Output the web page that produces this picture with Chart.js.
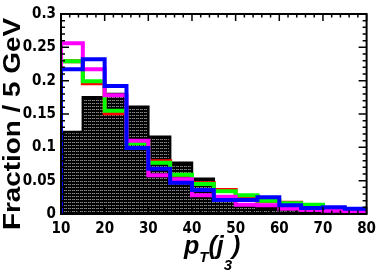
<!DOCTYPE html>
<html>
<head>
<meta charset="utf-8">
<script src="https://cdn.jsdelivr.net/npm/chart.js@4"></script>
<style>
html, body { margin: 0; padding: 0; background: #fff; }
</style>
</head>
<body>
<canvas id="c" width="382" height="273"></canvas>
<script>
// bin edges of the histogram (GeV)
const binEdges = [10, 15, 20, 25, 30, 35, 40, 45, 50, 55, 60, 65, 70, 75, 80];
const xTicks = [10, 20, 30, 40, 50, 60, 70, 80];
const yTicks = [0, 0.05, 0.1, 0.15, 0.2, 0.25, 0.3];

// fraction per bin
const blackVals   = [0.123, 0.175, 0.180, 0.161, 0.116, 0.077, 0.053, 0.020, 0.012, 0.009, 0.006, 0.004, 0.003, 0.002];
const redVals     = [0.229, 0.196, 0.151, 0.108, 0.079, 0.058, 0.046, 0.036, 0.027, 0.019, 0.017, 0.012, 0.008, 0.005];
const greenVals   = [0.229, 0.199, 0.155, 0.106, 0.077, 0.059, 0.045, 0.034, 0.028, 0.020, 0.016, 0.014, 0.008, 0.005];
const magentaVals = [0.256, 0.217, 0.178, 0.110, 0.058, 0.052, 0.028, 0.026, 0.014, 0.013, 0.008, 0.006, 0.005, 0.003];
const blueVals    = [0.217, 0.232, 0.192, 0.099, 0.068, 0.047, 0.036, 0.021, 0.021, 0.025, 0.013, 0.009, 0.010, 0.008];

// turn bin contents into the outline of a step histogram
function stepPoints(vals) {
  const pts = [{ x: binEdges[0], y: 0 }];
  vals.forEach((v, i) => {
    pts.push({ x: binEdges[i], y: v });
    pts.push({ x: binEdges[i + 1], y: v });
  });
  return pts;
}

// black fill with grey dotted rows
const pc = document.createElement('canvas');
pc.width = 4; pc.height = 3;
const p = pc.getContext('2d');
p.fillStyle = '#000'; p.fillRect(0, 0, 4, 3);
p.fillStyle = '#8c8c8c'; p.fillRect(0, 1, 1, 1); p.fillRect(2, 1, 1, 1);
p.fillStyle = '#505050'; p.fillRect(1, 1, 1, 1);
const hatch = p.createPattern(pc, 'repeat');

const labelFont = { family: "'Liberation Sans Narrow', 'DejaVu Sans Condensed', 'Liberation Sans', sans-serif", size: 15, weight: 'bold' };

// frame with inward ticks, like ROOT
const frame = {
  id: 'frame',
  afterDatasetsDraw(chart) {
    const { ctx, chartArea: a, scales: { x, y } } = chart;
    ctx.save();
    ctx.strokeStyle = '#000';
    ctx.lineWidth = 1.5;
    ctx.beginPath();
    for (let v = 10; v <= 80; v += 2) {
      const px = x.getPixelForValue(v);
      const len = v % 10 === 0 ? 7 : 3.5;
      ctx.moveTo(px, a.bottom); ctx.lineTo(px, a.bottom - len);
      ctx.moveTo(px, a.top); ctx.lineTo(px, a.top + len);
    }
    for (let k = 0; k <= 30; k++) {
      const py = y.getPixelForValue(k / 100);
      const len = k % 5 === 0 ? 8 : 4;
      ctx.moveTo(a.left, py); ctx.lineTo(a.left + len, py);
      ctx.moveTo(a.right, py); ctx.lineTo(a.right - len, py);
    }
    ctx.stroke();
    ctx.lineWidth = 2;
    ctx.strokeRect(a.left, a.top, a.right - a.left, a.bottom - a.top);
    ctx.restore();
  },
  afterDraw(chart) {
    const ctx = chart.ctx;
    ctx.save();
    ctx.fillStyle = '#000';
    // y title
    ctx.translate(20, 124);
    ctx.rotate(-Math.PI / 2);
    ctx.font = "bold 23px 'Liberation Sans', sans-serif";
    const w = ctx.measureText('Fraction / 5 GeV').width;
    ctx.scale(212 / w, 1);
    ctx.textAlign = 'center';
    ctx.textBaseline = 'alphabetic';
    ctx.fillText('Fraction / 5 GeV', 0, 0);
    ctx.restore();

    // x title p_T(j_3)
    ctx.save();
    ctx.fillStyle = '#000';
    ctx.textBaseline = 'alphabetic';
    const big = "italic bold 25px 'Liberation Sans', sans-serif";
    const small = "italic bold 15px 'Liberation Sans', sans-serif";
    let cx = 184;
    const parts = [['p', big, 254], ['T', small, 262], ['(j', big, 254], ['3', small, 270], [')', big, 254]];
    parts.forEach(([t, f, by]) => {
      ctx.font = f;
      ctx.fillText(t, cx, by);
      cx += ctx.measureText(t).width;
    });
    ctx.restore();
  }
};

new Chart(document.getElementById('c'), {
  type: 'line',
  data: {
    datasets: [
      { data: stepPoints(blueVals), borderColor: '#0000ff', borderWidth: 4, pointRadius: 0, fill: false },
      { data: stepPoints(magentaVals), borderColor: '#ff00ff', borderWidth: 4, pointRadius: 0, fill: false },
      { data: stepPoints(greenVals), borderColor: '#00ff00', borderWidth: 4, pointRadius: 0, fill: false },
      { data: stepPoints(redVals), borderColor: '#ff0000', borderWidth: 4, pointRadius: 0, fill: false },
      { data: stepPoints(blackVals), borderColor: '#000', borderWidth: 2.5, pointRadius: 0, fill: 'origin', backgroundColor: hatch }
    ]
  },
  options: {
    responsive: false,
    devicePixelRatio: 1,
    animation: false,
    layout: { padding: { left: 0, top: 14, right: 15, bottom: 0 } },
    plugins: { legend: { display: false }, tooltip: { enabled: false } },
    scales: {
      x: {
        type: 'linear', min: 10, max: 80,
        grid: { display: false, drawTicks: false },
        border: { display: false },
        afterBuildTicks: s => { s.ticks = xTicks.map(v => ({ value: v })); },
        afterFit: s => { s.height = 59; },
        ticks: { font: labelFont, color: '#000', padding: 6, maxRotation: 0 }
      },
      y: {
        min: 0, max: 0.3,
        grid: { display: false, drawTicks: false },
        border: { display: false },
        afterBuildTicks: s => { s.ticks = yTicks.map(v => ({ value: v })); },
        afterFit: s => { s.width = 61; },
        ticks: { font: labelFont, color: '#000', padding: 5, callback: v => String(v) }
      }
    }
  },
  plugins: [frame]
});
</script>
</body>
</html>
